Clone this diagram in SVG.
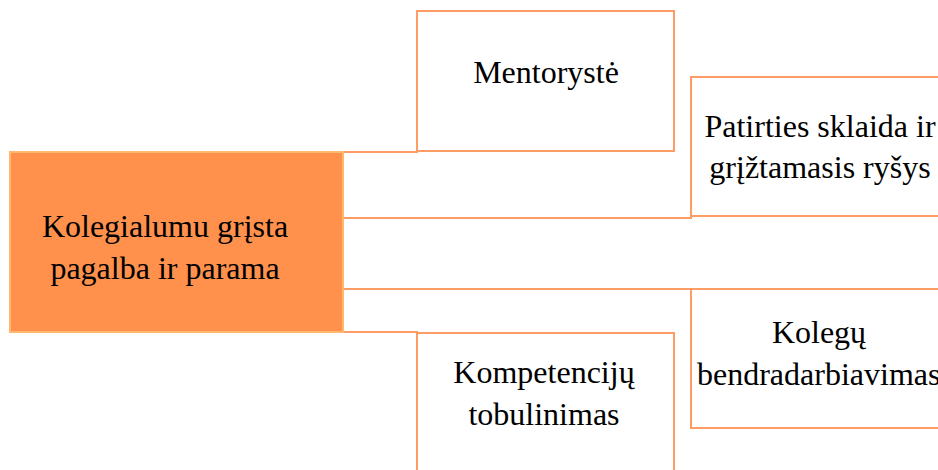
<svg xmlns="http://www.w3.org/2000/svg" width="938" height="470" viewBox="0 0 938 470">
  <style>
    .box { fill: #ffffff; stroke: #ff9c66; stroke-width: 2; }
    .hub { fill: #ff914d; stroke: #ffb86e; stroke-width: 2; }
    .link { fill: none; stroke: #ff9c66; stroke-width: 2; }
    text { font-family: "Liberation Serif", "Times New Roman", serif; font-size: 32px; fill: #000000; text-anchor: middle; }
    text.left { text-anchor: start; }
  </style>
  <rect width="938" height="470" fill="#ffffff"/>

  <!-- connectors from the central box -->
  <g id="connectors">
    <polyline class="link" points="343,152 417,152 417,150"/>
    <polyline class="link" points="343,218 691,218 691,215"/>
    <polyline class="link" points="343,289 691,289"/>
    <polyline class="link" points="343,332 417,332 417,334"/>
  </g>

  <g id="hub">
    <rect class="hub" x="10" y="152" width="333" height="180"/>
    <text x="165" y="237">Kolegialumu grįsta</text>
    <text x="165" y="279">pagalba ir parama</text>
  </g>

  <g id="mentoryste">
    <rect class="box" x="417" y="11" width="257" height="140"/>
    <text x="546" y="83">Mentorystė</text>
  </g>

  <g id="patirtis">
    <rect class="box" x="691" y="77" width="260" height="139"/>
    <text x="820" y="137">Patirties sklaida ir</text>
    <text x="820" y="178">grįžtamasis ryšys</text>
  </g>

  <g id="kolegos">
    <rect class="box" x="691" y="289" width="260" height="139"/>
    <text x="819" y="343">Kolegų</text>
    <text class="left" x="697" y="385">bendradarbiavimas</text>
  </g>

  <g id="kompetencijos">
    <rect class="box" x="417" y="333" width="257" height="150"/>
    <text x="544" y="383">Kompetencijų</text>
    <text x="544" y="425">tobulinimas</text>
  </g>
</svg>
